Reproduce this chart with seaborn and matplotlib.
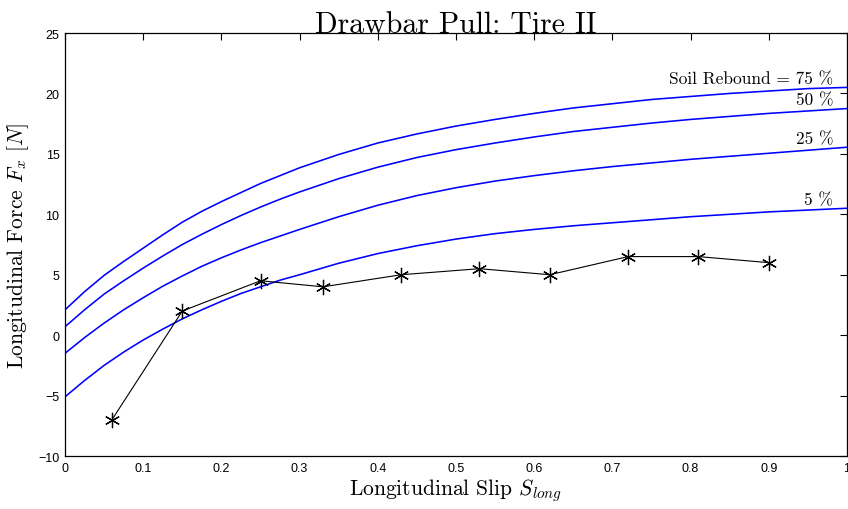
import numpy as np
import pandas as pd
import matplotlib
matplotlib.use("Agg")
import matplotlib.pyplot as plt
import seaborn as sns

# ---- data ----
slip_grid = [0.0, 0.025, 0.05, 0.075, 0.1, 0.125, 0.15, 0.175, 0.2, 0.225, 0.25, 0.275,
             0.3, 0.35, 0.4, 0.45, 0.5, 0.55, 0.6, 0.65, 0.7, 0.75, 0.8, 0.85, 0.9, 0.95, 1.0]
rebound_75 = [2.1, 3.6, 4.95, 6.1, 7.2, 8.3, 9.35, 10.25, 11.05, 11.8, 12.55, 13.2,
              13.85, 14.95, 15.9, 16.65, 17.3, 17.85, 18.35, 18.8, 19.15, 19.5, 19.75, 20.0, 20.2, 20.4, 20.5]
rebound_50 = [0.7, 2.1, 3.4, 4.5, 5.55, 6.55, 7.5, 8.35, 9.15, 9.9, 10.6, 11.25,
              11.85, 12.95, 13.9, 14.7, 15.35, 15.9, 16.4, 16.85, 17.2, 17.55, 17.85, 18.1, 18.35, 18.55, 18.75]
rebound_25 = [-1.5, -0.2, 1.0, 2.1, 3.1, 4.05, 4.9, 5.7, 6.4, 7.05, 7.65, 8.2,
              8.75, 9.8, 10.75, 11.55, 12.2, 12.75, 13.2, 13.6, 13.95, 14.25, 14.55, 14.8, 15.05, 15.3, 15.55]
rebound_5 = [-5.1, -3.75, -2.5, -1.4, -0.4, 0.5, 1.35, 2.1, 2.8, 3.45, 4.0, 4.55,
             5.0, 5.95, 6.75, 7.4, 7.95, 8.4, 8.75, 9.05, 9.3, 9.55, 9.8, 10.0, 10.2, 10.35, 10.5]
curve_labels = ["Soil Rebound = 75 %", "50 %", "25 %", "5 %"]

meas_slip = [0.06, 0.15, 0.25, 0.33, 0.43, 0.53, 0.62, 0.72, 0.81, 0.90]
meas_force = [-7.0, 2.0, 4.5, 4.0, 5.0, 5.5, 5.0, 6.5, 6.5, 6.0]

x_ticks = [0, 0.1, 0.2, 0.3, 0.4, 0.5, 0.6, 0.7, 0.8, 0.9, 1]
x_ticklabels = ["0", "0.1", "0.2", "0.3", "0.4", "0.5", "0.6", "0.7", "0.8", "0.9", "1"]
y_ticks = [-10, -5, 0, 5, 10, 15, 20, 25]

# ---- styling ----
sns.set_style("white")
plt.rcParams["font.family"] = ["Liberation Sans", "DejaVu Sans"]
plt.rcParams["mathtext.fontset"] = "cm"
plt.rcParams["axes.unicode_minus"] = True
for k in ["text.color", "axes.labelcolor", "xtick.color", "ytick.color", "axes.edgecolor"]:
    plt.rcParams[k] = "black"

curves = [rebound_75, rebound_50, rebound_25, rebound_5]
df = pd.concat(
    [pd.DataFrame({"slip": slip_grid, "force": c, "curve": lab})
     for c, lab in zip(curves, curve_labels)],
    ignore_index=True,
)
meas = pd.DataFrame({"slip": meas_slip, "force": meas_force})

fig = plt.figure(figsize=(8.48, 5.10), dpi=100)
ax = fig.add_axes([0.0767, 0.1039, 0.9221, 0.8294])

sns.lineplot(data=df, x="slip", y="force", hue="curve", units="curve",
             estimator=None, palette=["#0000ff"] * 4, linewidth=1.15,
             legend=False, ax=ax)
sns.lineplot(data=meas, x="slip", y="force", color="black", linewidth=0.8,
             marker=(6, 2, 0), markersize=11, markeredgewidth=0.9,
             markeredgecolor="black", ax=ax)

for c, lab in zip(curves, curve_labels):
    ax.annotate(lab, xy=(slip_grid[-1], c[-1]), xytext=(-10, 1),
                textcoords="offset points", ha="right", va="bottom",
                fontsize=12.5, family="cmr10", color="black")

ax.set_xlim(0, 1)
ax.set_ylim(-10, 25)
ax.set_xticks(x_ticks)
ax.set_xticklabels(x_ticklabels)
ax.set_yticks(y_ticks)
ax.tick_params(direction="in", length=5, width=0.8, top=True, right=True,
               labelsize=9, pad=4, colors="black")
for s in ax.spines.values():
    s.set_visible(True)
    s.set_linewidth(0.9)
    s.set_color("black")

ax.set_xlabel("Longitudinal Slip $S_{long}$", fontsize=15.5, family="cmr10", labelpad=2)
ax.set_ylabel("Longitudinal Force $F_x$ $[N]$", fontsize=15.5, family="cmr10", labelpad=5)
ax.set_title("Drawbar Pull: Tire II", fontsize=21.5, family="cmr10", pad=1)

fig.savefig("out.png", dpi=100)
